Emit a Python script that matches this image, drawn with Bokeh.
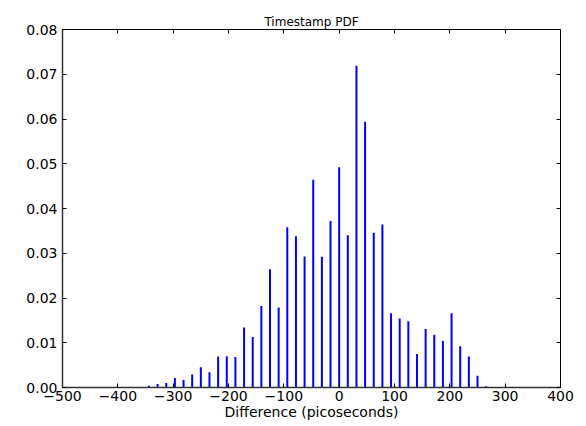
from bokeh.plotting import figure
from bokeh.models import LinearAxis, FixedTicker, Range1d
from bokeh.embed import file_html
from bokeh.resources import INLINE

# Timestamp difference (picoseconds) of each spike
diff_ps = [-343.75, -328.125, -312.5, -296.875, -281.25, -265.625, -250.0, -234.375,
           -218.75, -203.125, -187.5, -171.875, -156.25, -140.625, -125.0, -109.375,
           -93.75, -78.125, -62.5, -46.875, -31.25, -15.625, 0.0, 15.625,
           31.25, 46.875, 62.5, 78.125, 93.75, 109.375, 125.0, 140.625,
           156.25, 171.875, 187.5, 203.125, 218.75, 234.375, 250.0, 265.625]

# Probability density at each spike
pdf = [0.0004, 0.0008, 0.0010, 0.0021, 0.0017, 0.0029, 0.0045, 0.0034,
       0.0069, 0.0070, 0.0068, 0.0134, 0.0113, 0.0182, 0.0264, 0.0179,
       0.0358, 0.0338, 0.0293, 0.0464, 0.0292, 0.0372, 0.0492, 0.0340,
       0.0719, 0.0594, 0.0346, 0.0364, 0.0166, 0.0154, 0.0148, 0.0075,
       0.0131, 0.0118, 0.0104, 0.0166, 0.0092, 0.0069, 0.0026, 0.0003]

x_ticks = [-500, -400, -300, -200, -100, 0, 100, 200, 300, 400]
x_tick_labels = ["\u2212500", "\u2212400", "\u2212300", "\u2212200", "\u2212100",
                 "0", "100", "200", "300", "400"]
y_ticks = [0.0, 0.01, 0.02, 0.03, 0.04, 0.05, 0.06, 0.07, 0.08]
y_tick_labels = ["0.00", "0.01", "0.02", "0.03", "0.04", "0.05", "0.06", "0.07", "0.08"]

FONT = "DejaVu Sans"

p = figure(frame_width=498, frame_height=358,
           x_range=Range1d(-500, 400), y_range=Range1d(0, 0.08),
           output_backend="svg", toolbar_location=None,
           min_border_left=62, min_border_right=18,
           min_border_top=29, min_border_bottom=37,
           background_fill_color="white", border_fill_color="white")

p.title.text = "Timestamp PDF"
p.title.align = "center"
p.title.text_font = FONT
p.title.text_font_size = "12px"
p.title.text_font_style = "normal"
p.title.text_color = "black"
p.title.standoff = 2

p.segment(x0=diff_ps, y0=0, x1=diff_ps, y1=pdf, line_color="#0000ff", line_width=2)

p.grid.visible = False
p.outline_line_color = "black"
p.outline_line_width = 1


def style_axis(ax, ticks, labels=None, show_labels=True):
    ax.ticker = FixedTicker(ticks=ticks)
    ax.minor_tick_line_color = None
    ax.major_tick_in = 4
    ax.major_tick_out = 0
    ax.major_tick_line_color = "black"
    ax.axis_line_color = "#333333"
    ax.axis_line_width = 1.5
    if show_labels:
        ax.major_label_overrides = {t: l for t, l in zip(ticks, labels)}
        ax.major_label_text_font = FONT
        ax.major_label_text_font_size = "14px"
        ax.major_label_text_color = "black"
    else:
        ax.major_label_overrides = {t: "" for t in ticks}
        ax.major_label_text_font_size = "1px"
        ax.major_label_standoff = 0
        ax.axis_line_color = None


style_axis(p.xaxis[0], x_ticks, x_tick_labels)
p.xaxis[0].major_label_standoff = 3
p.xaxis[0].axis_label = "Difference (picoseconds)"
p.xaxis[0].axis_label_text_font = FONT
p.xaxis[0].axis_label_text_font_size = "14px"
p.xaxis[0].axis_label_text_font_style = "normal"
p.xaxis[0].axis_label_text_color = "black"
p.xaxis[0].axis_label_standoff = 0

style_axis(p.yaxis[0], y_ticks, y_tick_labels)
p.yaxis[0].major_label_standoff = 5

top = LinearAxis()
style_axis(top, x_ticks, show_labels=False)
p.add_layout(top, "above")

right = LinearAxis()
style_axis(right, y_ticks, show_labels=False)
p.add_layout(right, "right")

open("out.html", "w").write(file_html(p, INLINE))
